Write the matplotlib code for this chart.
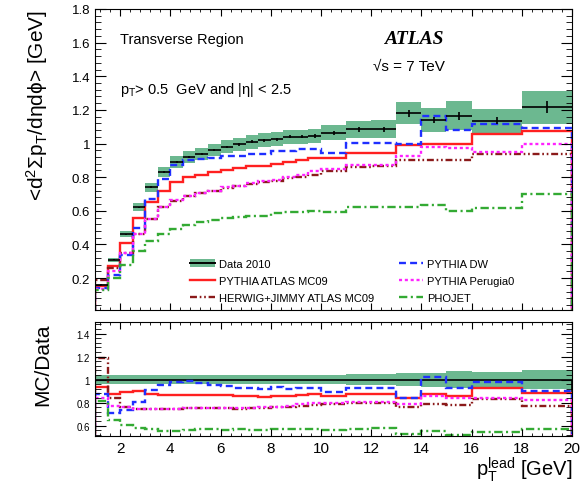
import matplotlib
matplotlib.use('Agg')
import matplotlib.pyplot as plt
import numpy as np
from matplotlib.patches import Patch
from matplotlib.lines import Line2D
from matplotlib.ticker import MultipleLocator

plt.rcParams['font.family'] = ['Liberation Sans', 'DejaVu Sans']
plt.rcParams['mathtext.fontset'] = 'custom'
plt.rcParams['mathtext.rm'] = 'Liberation Sans'
plt.rcParams['mathtext.it'] = 'Liberation Sans:italic'
plt.rcParams['mathtext.default'] = 'regular'
plt.rcParams['lines.scale_dashes'] = False

# leading track pT bins [GeV]
edges = [1, 1.5, 2, 2.5, 3, 3.5, 4, 4.5, 5, 5.5, 6, 6.5, 7, 7.5, 8, 8.5, 9, 9.5, 10,
         11, 12, 13, 14, 15, 16, 18, 20]

data = [0.16, 0.31, 0.46, 0.62, 0.74, 0.83, 0.89, 0.92, 0.94, 0.96, 0.98, 0.995, 1.01,
        1.02, 1.025, 1.04, 1.04, 1.045, 1.065, 1.085, 1.085, 1.18, 1.14, 1.165, 1.135, 1.215]
data_stat = [0.003, 0.004, 0.004, 0.005, 0.005, 0.005, 0.006, 0.006, 0.006, 0.007, 0.007,
             0.008, 0.008, 0.009, 0.009, 0.010, 0.010, 0.011, 0.012, 0.014, 0.015, 0.020,
             0.020, 0.025, 0.020, 0.035]
data_syst = [0.006, 0.012, 0.018, 0.024, 0.028, 0.032, 0.034, 0.035, 0.036, 0.037, 0.038,
             0.039, 0.040, 0.041, 0.041, 0.042, 0.042, 0.043, 0.045, 0.050, 0.052, 0.065,
             0.070, 0.085, 0.070, 0.100]

pythia_mc09 = [0.15, 0.27, 0.41, 0.56, 0.65, 0.72, 0.77, 0.80, 0.815, 0.83, 0.845, 0.855,
               0.865, 0.865, 0.876, 0.89, 0.90, 0.915, 0.915, 0.945, 0.945, 0.99, 0.995,
               0.995, 1.055, 1.075]
pythia_dw = [0.14, 0.22, 0.34, 0.50, 0.67, 0.79, 0.87, 0.905, 0.91, 0.915, 0.925, 0.925,
             0.935, 0.935, 0.955, 0.955, 0.965, 0.965, 0.946, 1.006, 1.006, 0.996, 1.165,
             1.08, 1.115, 1.09]
perugia0 = [0.135, 0.24, 0.35, 0.46, 0.55, 0.62, 0.665, 0.69, 0.707, 0.72, 0.74, 0.75,
            0.765, 0.775, 0.785, 0.80, 0.815, 0.835, 0.85, 0.87, 0.87, 0.925, 0.98, 0.975,
            0.95, 0.996]
herwig = [0.19, 0.26, 0.35, 0.46, 0.55, 0.62, 0.66, 0.69, 0.705, 0.72, 0.735, 0.745,
          0.76, 0.77, 0.78, 0.795, 0.80, 0.815, 0.835, 0.86, 0.865, 0.90, 0.90, 0.905,
          0.94, 0.94]
phojet = [0.13, 0.20, 0.28, 0.36, 0.42, 0.46, 0.49, 0.515, 0.535, 0.545, 0.555, 0.565,
          0.57, 0.57, 0.585, 0.59, 0.59, 0.60, 0.595, 0.62, 0.625, 0.625, 0.635, 0.60,
          0.615, 0.697]

green_band = '#6cb890'
models = [
    ('PYTHIA ATLAS MC09', pythia_mc09, '#ff2020', (None, None)),
    ('HERWIG+JIMMY ATLAS MC09', herwig, '#8b1a1a', (5, 2, 1.2, 2, 1.2, 2)),
    ('PYTHIA DW', pythia_dw, '#1f2fff', (5, 3)),
    ('PYTHIA Perugia0', perugia0, '#ff22ff', (2.2, 2)),
    ('PHOJET', phojet, '#33aa33', (6, 2.5, 1.5, 2.5)),
]

e = np.array(edges)
d = np.array(data)
centers = 0.5 * (e[1:] + e[:-1])
halfw = 0.5 * (e[1:] - e[:-1])
syst = np.array(data_syst)

fig = plt.figure(figsize=(5.86, 4.85), dpi=100)
ax = fig.add_axes([95 / 586, 1 - 311 / 485, 477 / 586, 301 / 485])
axr = fig.add_axes([95 / 586, 1 - 437 / 485, 477 / 586, 114 / 485])

# main panel
ax.bar(e[:-1], 2 * syst, bottom=d - syst, width=np.diff(e), align='edge',
       color=green_band, linewidth=0)
ax.errorbar(centers, d, xerr=halfw, yerr=data_stat, fmt='none', ecolor='black',
            elinewidth=1.2)
handles = {}
for name, vals, col, dash in models:
    st = ax.stairs(vals, e, color=col, linewidth=1.7)
    if dash[0] is not None:
        st.set_linestyle((0, dash))
    h = Line2D([], [], color=col, linewidth=1.7)
    if dash[0] is not None:
        h.set_dashes(dash)
    handles[name] = h

ax.set_xlim(1, 20)
ax.set_ylim(0.01, 1.8)
ax.xaxis.set_major_locator(MultipleLocator(2))
ax.xaxis.set_minor_locator(MultipleLocator(0.4))
ax.yaxis.set_minor_locator(MultipleLocator(0.04))
ax.set_yticks([0.2, 0.4, 0.6, 0.8, 1.0, 1.2, 1.4, 1.6, 1.8])
ax.set_yticklabels(['0.2', '0.4', '0.6', '0.8', '1', '1.2', '1.4', '1.6', '1.8'])
ax.tick_params(axis='x', which='both', direction='in', top=True, labelbottom=False)
ax.tick_params(axis='y', which='both', direction='in', right=True, labelsize=9.5)
ax.tick_params(axis='x', which='major', length=5)
ax.tick_params(axis='x', which='minor', length=2.5)
ax.tick_params(axis='y', which='major', length=8)
ax.tick_params(axis='y', which='minor', length=4)
ax.set_ylabel(r'<d$^2\Sigma$p$_T$/d$\eta$d$\phi$> [GeV]', fontsize=15, loc='top')
ax.yaxis.set_label_coords(-0.095, 1.0)

ax.text(0.052, 0.9, 'Transverse Region', transform=ax.transAxes, fontsize=10.5,
        va='center')
ax.text(0.052, 0.733, r'p$_T$> 0.5  GeV and |$\eta$| < 2.5', transform=ax.transAxes,
        fontsize=10.5, va='center')
ax.text(0.605, 0.903, 'ATLAS', transform=ax.transAxes, fontsize=14,
        family='Liberation Serif', style='italic', weight='bold', va='center')
ax.text(0.583, 0.81, '√s = 7 TeV', transform=ax.transAxes, fontsize=11, va='center')

data_handle = (Patch(facecolor=green_band, linewidth=0),
               Line2D([], [], color='black', linewidth=1.4))
leg_h = [data_handle, handles['PYTHIA ATLAS MC09'], handles['HERWIG+JIMMY ATLAS MC09'],
         handles['PYTHIA DW'], handles['PYTHIA Perugia0'], handles['PHOJET']]
leg_l = ['Data 2010', 'PYTHIA ATLAS MC09', 'HERWIG+JIMMY ATLAS MC09',
         'PYTHIA DW', 'PYTHIA Perugia0', 'PHOJET']
ax.legend(leg_h, leg_l, ncol=2, loc='upper left', bbox_to_anchor=(0.19, 0.185),
          frameon=False, fontsize=8, handlelength=2.2, handletextpad=0.4,
          columnspacing=2.2, labelspacing=0.62, borderaxespad=0)

# ratio panel
rel = syst / d
axr.bar(e[:-1], 2 * rel, bottom=1 - rel, width=np.diff(e), align='edge',
        color=green_band, linewidth=0)
axr.stairs(d / d, e, color='black', linewidth=1.2)
for name, vals, col, dash in models:
    st = axr.stairs(np.array(vals) / d, e, color=col, linewidth=1.7)
    if dash[0] is not None:
        st.set_linestyle((0, dash))

axr.set_xlim(1, 20)
axr.set_ylim(0.51, 1.5)
axr.xaxis.set_minor_locator(MultipleLocator(0.4))
axr.set_yticks([0.6, 0.8, 1.0, 1.2, 1.4])
axr.set_yticklabels(['0.6', '0.8', '1', '1.2', '1.4'])
axr.yaxis.set_minor_locator(MultipleLocator(0.04))
axr.set_xticks([2, 4, 6, 8, 10, 12, 14, 16, 18, 20])
axr.set_xticklabels(['2', '4', '6', '8', '10', '12', '14', '16', '18', '20'])
axr.tick_params(axis='x', which='both', direction='in', top=True, labelsize=11)
axr.tick_params(axis='y', which='both', direction='in', right=True, labelsize=7)
axr.tick_params(axis='x', which='major', length=5)
axr.tick_params(axis='x', which='minor', length=2.5)
axr.tick_params(axis='y', which='major', length=8)
axr.tick_params(axis='y', which='minor', length=4)
axr.set_ylabel('MC/Data', fontsize=15, loc='top')
axr.yaxis.set_label_coords(-0.09, 1.0)
axr.set_xlabel(r'p$_T^{lead}$ [GeV]', fontsize=14.5, loc='right')
axr.xaxis.set_label_coords(1.0, -0.16)

fig.savefig('out.png', dpi=100)
